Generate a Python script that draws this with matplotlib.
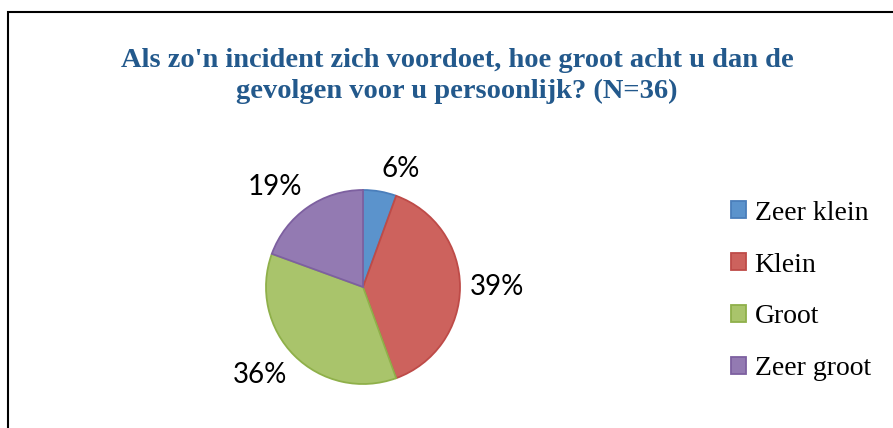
import matplotlib
matplotlib.use("Agg")
import numpy as np
import matplotlib.pyplot as plt
from matplotlib.patches import Rectangle

# Data (N=36)
categories = ["Zeer klein", "Klein", "Groot", "Zeer groot"]
counts = [2, 14, 13, 7]
title = "Als zo'n incident zich voordoet, hoe groot acht u dan de\ngevolgen voor u persoonlijk? (N=36)"

face_colors = ["#5b93cc", "#cd625d", "#a9c46b", "#937ab2"]
edge_colors = ["#4a7ebb", "#be4b48", "#8fb04a", "#7d60a0"]

serif = "Liberation Serif"
sans = "Lato"

W, H = 893, 428
fig = plt.figure(figsize=(W / 100, H / 100), dpi=100)

# chart border (only left/top visible in the crop)
fig.patches.append(Rectangle((8 / W, -0.1), 1.2, (H - 12) / H + 0.1,
                             transform=fig.transFigure, fill=False,
                             edgecolor="black", lw=1.5))

# pie axes: center at (363, 287) px, radius 97 px
cx, cy, r = 363, 287, 97
lim = 1.2
side = 2 * r * lim
ax = fig.add_axes([(cx - side / 2) / W, (H - cy - side / 2) / H, side / W, side / H])

wedges, _ = ax.pie(counts, startangle=90, counterclock=False,
                   colors=face_colors, radius=1.0,
                   wedgeprops=dict(linewidth=1.3))
for w, ec in zip(wedges, edge_colors):
    w.set_edgecolor(ec)
ax.set_xlim(-lim, lim)
ax.set_ylim(-lim, lim)
ax.set_aspect("equal")
ax.axis("off")

# percentage labels just outside each wedge, Excel style
total = sum(counts)
for w, c in zip(wedges, counts):
    mid = np.deg2rad((w.theta1 + w.theta2) / 2)
    x, y = 1.1 * np.cos(mid), 1.1 * np.sin(mid)
    ha = "left" if np.cos(mid) > 0 else "right"
    va = "bottom" if np.sin(mid) > 0.3 else ("top" if np.sin(mid) < -0.3 else "center")
    ax.text(x, y, f"{round(100 * c / total)}%", ha=ha, va=va,
            fontsize=20, family=sans, color="black")

fig.text(457 / W, 1 - 76 / H, title, ha="center", va="center",
         fontsize=20.5, fontweight="bold", family=serif, color="#23598c",
         linespacing=1.3)

leg = fig.legend(wedges, categories, loc="center left",
                 bbox_to_anchor=(731 / W, 1 - 291 / H),
                 frameon=False, prop=dict(family=serif, size=20),
                 handlelength=0.55, handleheight=0.55, handletextpad=0.3,
                 labelspacing=0.97, borderpad=0, borderaxespad=0)

fig.savefig("out.png", dpi=100)
